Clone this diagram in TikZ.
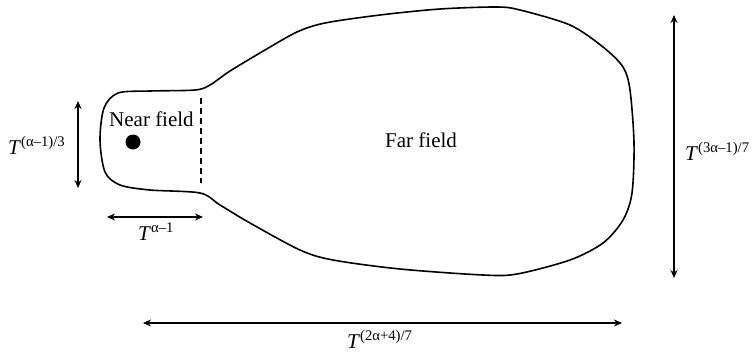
\documentclass[tikz,border=0pt]{standalone}
\usepackage{fontspec}
\setmainfont{Liberation Serif}
\usetikzlibrary{arrows.meta}
\newcommand{\Tpow}[1]{\textit{T}\textsuperscript{#1}}

\begin{document}
\begin{tikzpicture}[x=1pt, y=-1pt, every node/.style={font=\fontsize{21}{25}\selectfont, inner sep=0pt},
    dim/.style={{Stealth[length=8pt,width=7pt]}-{Stealth[length=8pt,width=7pt]}, line width=1.2pt}]
  \useasboundingbox (0,0) rectangle (754,354);
  % Field outline (near field neck + far field bulb)
  \draw[line width=1.6pt, line join=round] plot[smooth cycle, tension=0.5] coordinates {
      (100,140) (104,108) (118,93) (150,91) (195,90) (210,85) (230,71) (265,50)
      (297,32) (325,23) (380,15) (440,9) (497,7) (520,10) (570,25) (603,47)
      (623,67) (630,90) (634,143) (632,193) (623,220) (603,243) (570,260)
      (517,274) (483,275) (400,269) (333,260) (300,250) (250,223) (220,205)
      (200,193) (150,190) (120,185) (105,172)};
  % Boundary between the two zones
  \coordinate (cutT) at (201,98);
  \coordinate (cutB) at (201,183);
  \draw[line width=1.3pt, dash pattern=on 6pt off 4pt] (cutT) -- (cutB);
  % Source and zone labels
  \node[circle, fill, minimum size=15pt] (src) at (133,142) {};
  \node[anchor=base west] (near) at (109,126) {Near field};
  \node[anchor=base west] (far) at (385,147) {Far field};
  % Dimensions
  \coordinate (wT) at (78,101);
  \coordinate (wB) at (78,188);
  \draw[dim] (wT) -- (wB);
  \node[anchor=base west] (wlab) at (8,154) {\Tpow{(α–1)/3}};
  \coordinate (lL) at (107,217);
  \coordinate (lR) at (203,217);
  \draw[dim] (lL) -- (lR);
  \node[anchor=base west] (llab) at (138,240) {\Tpow{α–1}};
  \coordinate (hT) at (674,15);
  \coordinate (hB) at (674,278);
  \draw[dim] (hT) -- (hB);
  \node[anchor=base west] (hlab) at (685,160) {\Tpow{(3α–1)/7}};
  \coordinate (bL) at (143,323);
  \coordinate (bR) at (622,323);
  \draw[dim] (bL) -- (bR);
  \node[anchor=base west] (blab) at (347,348) {\Tpow{(2α+4)/7}};
\end{tikzpicture}
\end{document}
